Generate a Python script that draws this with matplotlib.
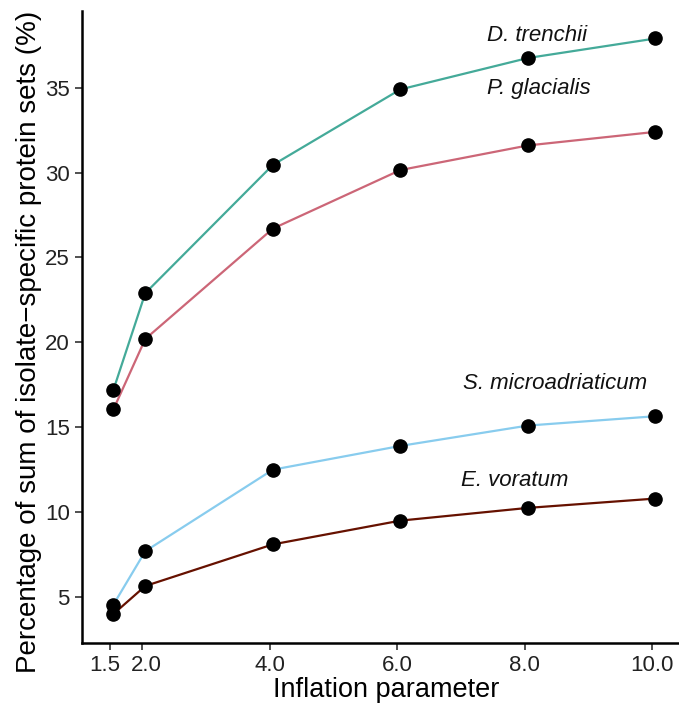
import numpy as np
import matplotlib
matplotlib.use("Agg")
import matplotlib.pyplot as plt
import matplotlib.transforms as mtransforms

plt.rcParams['font.family'] = ['Liberation Sans', 'DejaVu Sans']

inflation = np.array([1.5, 2.0, 4.0, 6.0, 8.0, 10.0])
tick_labels = ['1.5', '2.0', '4.0', '6.0', '8.0', '10.0']

species = ['D. trenchii', 'P. glacialis', 'S. microadriaticum', 'E. voratum']
d_trenchii = [17.2, 22.9, 30.45, 34.9, 36.75, 37.9]
p_glacialis = [16.05, 20.2, 26.7, 30.15, 31.6, 32.4]
s_micro = [4.55, 7.7, 12.5, 13.9, 15.1, 15.65]
e_voratum = [4.0, 5.65, 8.1, 9.5, 10.25, 10.8]
colors = ['#44AA99', '#CC6677', '#88CCEE', '#661100']

# label anchor points (x, y) in data units
label_x = [8.2, 8.22, 8.47, 7.85]
label_y = [38.05, 34.95, 17.55, 11.85]

fig = plt.figure(figsize=(6.79, 7.08), dpi=100)
ax = fig.add_axes([0.121, 0.092, 0.879, 0.892])

shift = 0.05
for vals, col in zip([d_trenchii, p_glacialis, s_micro, e_voratum], colors):
    ax.plot(inflation + shift, vals, color=col, lw=1.6, zorder=2)
    ax.plot(inflation + shift, vals, 'o', color='black', ms=9.5, zorder=3)

for name, lx, ly in zip(species, label_x, label_y):
    ax.text(lx, ly, name, style='italic', fontsize=16, ha='center', va='center', color='#111111')

ax.set_xlim(1.06, 10.42)
ax.set_ylim(2.3, 39.5)
ax.set_xticks(inflation)
ax.set_xticklabels(tick_labels)
ax.set_yticks([5, 10, 15, 20, 25, 30, 35])
ax.tick_params(labelsize=16, length=5, width=1.2, color='#333333', labelcolor='#222222', pad=4)

# the two crowded labels are nudged apart
labs = ax.get_xticklabels()
labs[0].set_transform(labs[0].get_transform() + mtransforms.ScaledTranslation(-5/100, 0, fig.dpi_scale_trans))
labs[1].set_transform(labs[1].get_transform() + mtransforms.ScaledTranslation(4.5/100, 0, fig.dpi_scale_trans))

for s in ['top', 'right']:
    ax.spines[s].set_visible(False)
for s in ['left', 'bottom']:
    ax.spines[s].set_linewidth(1.8)

ax.set_xlabel('Inflation parameter', fontsize=19.5)
ax.set_ylabel('Percentage of sum of isolate\u2212specific protein sets (%)', fontsize=20)
ax.xaxis.set_label_coords(0.509, -0.054)
ax.yaxis.set_label_coords(-0.067, 0.476)

fig.savefig('out.png', dpi=100)
